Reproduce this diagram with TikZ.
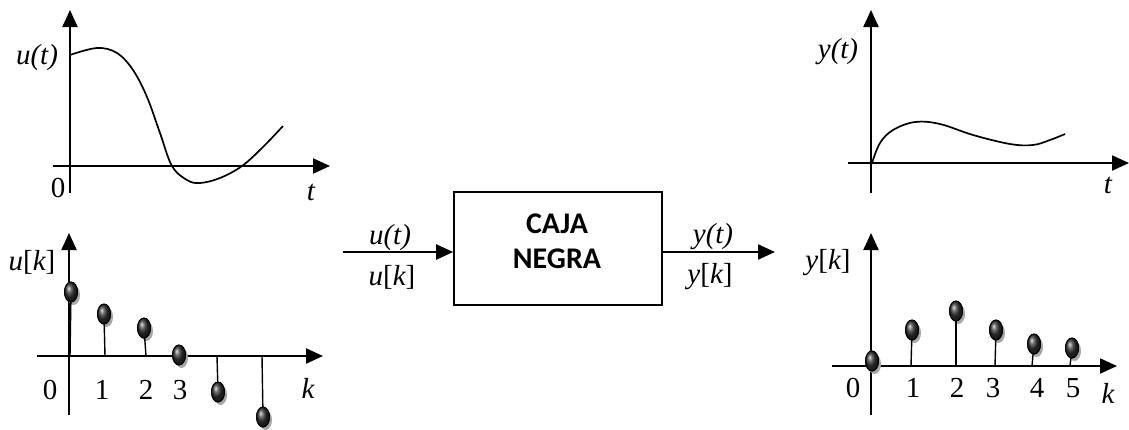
\documentclass[tikz,border=0pt]{standalone}
\usepackage{fontspec}
\setmainfont{Liberation Serif}
\newfontfamily\boxfont{Carlito}
\usetikzlibrary{arrows.meta,shapes.geometric}
\begin{document}
\begin{tikzpicture}[x=1pt,y=-1pt,
  axis/.style={line width=2.2pt,-{Triangle[length=17pt,width=15pt]}},
  curve/.style={line width=1.7pt,line join=round},
  stem/.style={line width=1.4pt},
  lbl/.style={font=\fontsize{29}{29}\selectfont,inner sep=0pt},
  sample/.style={ellipse,minimum width=13pt,minimum height=20pt,inner sep=0pt,
    draw=black,line width=0.9pt,shading=ball,ball color=black!80},
  shadow/.style={ellipse,minimum width=13pt,minimum height=20pt,inner sep=0pt,
    fill=black!35},
  sig/.style={line width=2.2pt,-{Triangle[length=17pt,width=15pt]}}]
\useasboundingbox (0,0) rectangle (1129,429);

% ---------- u(t), continuous input ----------
\coordinate (ua0) at (70,193); \coordinate (ua1) at (70,10);
\coordinate (ub0) at (53,166); \coordinate (ub1) at (330,166);
\draw[axis] (ua0) -- (ua1);
\draw[axis] (ub0) -- (ub1);
\draw[curve] plot[smooth,tension=0.6] coordinates {(70,55) (97,48) (117,53) (133,70)
  (147,97) (160,133) (172,166) (187,180) (200,183) (220,178) (242,166) (263,147) (283,126)};
\node[lbl] (ut) at (37,58) {\itshape u(t)};
\node[lbl] (u0) at (58,188) {0};
\node[lbl] (ut1) at (311,192) {\itshape t};

% ---------- u[k], sampled input ----------
\coordinate (va0) at (69,415); \coordinate (va1) at (69,233);
\coordinate (vb0) at (37,356); \coordinate (vb1) at (323,356);
\draw[axis] (va0) -- (va1);
\draw[axis] (vb0) -- (vb1);
\foreach \n/\x/\y in {0/71/292, 1/104/314, 2/144/328, 3/179/355, 4/218/392, 5/263/417}{
  \node[shadow] at (\x+2.5,\y+3) {};
}
\foreach \n/\sx/\x/\y in {0/70/71/292, 1/105/104/314, 2/146/144/328, 3/179/179/355, 4/217/218/392, 5/262/263/417}{
  \coordinate (us\n) at (\sx,356);
  \node[sample] (uk\n) at (\x,\y) {};
  \draw[stem] (us\n) -- (uk\n.center);
  \node[sample] at (\x,\y) {};
}
\node[lbl] (ukl) at (32,262) {\itshape u\upshape[\itshape k\upshape]};
\node[lbl] (n0) at (50,390) {0};
\node[lbl] (n1) at (102,390) {1};
\node[lbl] (n2) at (146,390) {2};
\node[lbl] (n3) at (180,390) {3};
\node[lbl] (nk) at (308,388) {\itshape k};

% ---------- block ----------
\node[draw,line width=1.6pt,minimum width=208pt,minimum height=113pt,inner sep=0pt]
  (box) at (558,248.5) {};
\node[font=\boxfont\bfseries\fontsize{30}{30}\selectfont,align=center,inner sep=0pt]
  (boxtxt) at (557,241) {CAJA\\[5pt]NEGRA};
\coordinate (in) at (343,252);
\coordinate (out) at (775,252);
\draw[sig] (in) -- (in -| box.west);
\draw[sig] (out -| box.east) -- (out);
\node[lbl] (inl1) at (390,238) {\itshape u(t)};
\node[lbl] (inl2) at (392,277) {\itshape u\upshape[\itshape k\upshape]};
\node[lbl] (outl1) at (713,237) {\itshape y(t)};
\node[lbl] (outl2) at (710,277) {\itshape y\upshape[\itshape k\upshape]};

% ---------- y(t), continuous output ----------
\coordinate (ya0) at (871,193); \coordinate (ya1) at (871,10);
\coordinate (yb0) at (848,163); \coordinate (yb1) at (1129,163);
\draw[axis] (ya0) -- (ya1);
\draw[axis] (yb0) -- (yb1);
\draw[curve] plot[smooth,tension=0.6] coordinates {(872,163) (880,143) (893,130) (915,122)
  (940,124) (973,135) (1010,144) (1033,145) (1050,140) (1065,134)};
\node[lbl] (yt) at (838,52) {\itshape y(t)};
\node[lbl] (yt1) at (1108,185) {\itshape t};

% ---------- y[k], sampled output ----------
\coordinate (za0) at (871,415); \coordinate (za1) at (871,233);
\coordinate (zb0) at (832,366); \coordinate (zb1) at (1117,366);
\draw[axis] (za0) -- (za1);
\draw[axis] (zb0) -- (zb1);
\foreach \n/\x/\y in {0/872/361, 1/912/330, 2/956/311, 3/996/330, 4/1034/344, 5/1072/348}{
  \node[shadow] at (\x+2.5,\y+3) {};
}
\foreach \n/\sx/\x/\y in {0/872/872/361, 1/911/912/330, 2/956/956/311, 3/995/996/330, 4/1032/1034/344, 5/1070/1072/348}{
  \coordinate (ys\n) at (\sx,366);
  \node[sample] (yk\n) at (\x,\y) {};
  \draw[stem] (ys\n) -- (yk\n.center);
  \node[sample] at (\x,\y) {};
}
\node[lbl] (ykl) at (828,263) {\itshape y\upshape[\itshape k\upshape]};
\node[lbl] (m0) at (853,388) {0};
\node[lbl] (m1) at (913,388) {1};
\node[lbl] (m2) at (957,388) {2};
\node[lbl] (m3) at (993,388) {3};
\node[lbl] (m4) at (1037,388) {4};
\node[lbl] (m5) at (1073,388) {5};
\node[lbl] (mk) at (1108,393) {\itshape k};
\end{tikzpicture}
\end{document}
